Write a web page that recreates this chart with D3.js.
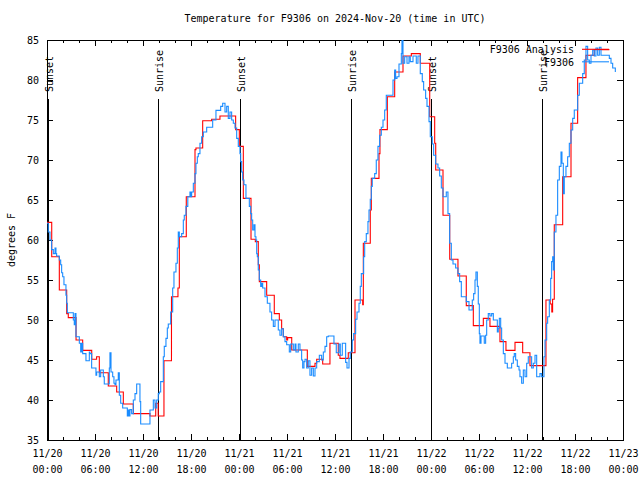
<!DOCTYPE html>
<html><head><meta charset="utf-8">
<script src="https://cdn.jsdelivr.net/npm/d3@7"></script>
<style>
body{margin:0;background:#fff}
svg{display:block}
text{font-family:"DejaVu Sans Mono","Liberation Mono",monospace;font-size:10px;fill:#000}
</style>
</head><body><svg id="c" width="640" height="480"></svg>
<script>
const title = "Temperature for F9306 on 2024-Nov-20 (time in UTC)";
const yLabel = "degrees F";
const seriesNames = ["F9306 Analysis", "F9306"];
const seriesColors = ["#ff0000", "#1a8cff"];
const startUTC = Date.UTC(2024, 10, 20);
const spanHours = 72;
const yTicks = [35, 40, 45, 50, 55, 60, 65, 70, 75, 80, 85];

const sunHours = [0.16, 13.91, 24.16, 37.96, 48.04, 61.88];
const sunLabels = ["Sunset", "Sunrise", "Sunset", "Sunrise", "Sunset", "Sunrise"];

// Analysis (hours since 11/20 00:00 UTC, degrees F)
const anaHours = [0, 0.59, 1.54, 2.46, 2.66, 3.63, 4.46, 5.59, 6.2, 6.54, 7.66, 8.71, 9.54, 10.79, 12.87, 13.59, 13.9,
  14.62, 15.56, 16.37, 16.54, 17.41, 18.5, 18.62, 19.46, 20.58, 21.62, 23.58, 24.04, 24.54, 25.5, 26.04, 26.41, 26.54,
  27.46, 28.41, 29.04, 29.33, 29.54, 29.96, 30.08, 30.59, 32.54, 33.5, 33.71, 34.46, 35.37, 36.41, 36.62, 37.66, 38.5,
  39.46, 39.54, 40.41, 40.54, 41.5, 41.62, 42.54, 43.46, 44.5, 45.54, 46.66, 47.84, 48.46, 48.59, 49.5, 50.34, 51.37,
  52.41, 53.29, 54.54, 55.37, 56.62, 57.37, 58.5, 59.46, 60.37, 62.37, 62.9, 63.1, 63.2, 63.41, 64.46, 65.5, 66.33,
  67.37, 68.41, 70.3];
const anaTemps = [62.2, 57.9, 53.75, 50.8, 50.3, 47.5, 46.2, 45.1, 45.4, 43.4, 41.75, 41.0, 39.5, 38.3, 38.0, 39.6, 38.0,
  44.9, 52.9, 54.0, 60.4, 65.4, 71.3, 71.5, 74.9, 75.1, 75.5, 73.8, 71.7, 65.2, 60.1, 59.8, 56.9, 54.8,
  53.1, 50.8, 50.0, 48.9, 47.9, 47.5, 47.8, 46.25, 44.2, 44.6, 45.1, 44.5, 47.1, 45.6, 45.2, 45.9, 52.5,
  51.9, 59.6, 63.75, 67.7, 70.8, 73.8, 77.9, 81.0, 83.0, 83.3, 82.1, 75.4, 72.1, 68.75, 63.1, 57.6, 55.5,
  51.8, 49.3, 50.2, 49.2, 47.3, 46.2, 47.2, 45.9, 44.3, 52.5, 52.0, 51.0, 52.6, 61.9, 67.9, 74.6, 80.3,
  83.1, 83.8, 83.8];

// Observations
const obsHours = [0, 0.16, 0.37, 0.58, 0.79, 1.0, 1.12, 1.2, 1.54, 1.71, 1.83, 1.96, 2.12, 2.37, 2.46, 2.54, 3.29, 3.41,
  3.5, 3.62, 4.04, 4.21, 4.33, 4.46, 4.87, 5.29, 5.37, 5.58, 6.12, 6.21, 6.54, 6.71, 7.04, 7.16, 7.79, 7.87, 8.0, 8.21,
  8.37, 8.5, 8.62, 8.91, 9.04, 9.21, 9.46, 10.04, 10.16, 10.29, 10.37, 10.58, 10.79, 11.0, 11.21, 11.62, 11.71, 12.87,
  13.29, 13.5, 13.71, 13.91, 14.04, 14.21, 14.54, 14.66, 14.87, 15.04, 15.16, 15.46, 15.71, 15.87, 16.12, 16.29, 16.41,
  16.54, 16.83, 17.04, 17.16, 17.37, 17.6, 17.87, 17.96, 18.08, 18.29, 18.5, 18.62, 18.79, 18.91, 19.12, 19.33, 19.54,
  19.96, 20.71, 21.12, 21.71, 21.96, 22.25, 22.46, 22.66, 22.87, 23.08, 23.29, 23.5, 23.71, 23.91, 24.12, 24.21, 24.33,
  24.46, 24.62, 24.87, 25.29, 25.46, 25.58, 25.71, 25.87, 26.0, 26.12, 26.21, 26.29, 26.41, 26.54, 26.71, 26.83, 26.96,
  27.25, 27.54, 27.87, 28.08, 28.29, 28.5, 28.91, 29.12, 29.33, 29.54, 29.75, 29.96, 30.29, 30.46, 30.79, 31.0, 31.12,
  31.41, 31.62, 31.83, 31.96, 32.12, 32.25, 32.46, 32.66, 32.87, 33.08, 33.29, 33.5, 33.71, 34.04, 34.33, 34.54, 34.75,
  34.96, 35.16, 35.87, 36.16, 36.5, 36.66, 36.91, 37.33, 37.5, 37.75, 37.91, 38.16, 38.33, 38.58, 38.75, 39.0, 39.16,
  39.29, 39.58, 39.71, 39.91, 40.12, 40.25, 40.41, 40.54, 40.66, 40.96, 41.16, 41.37, 41.58, 41.79, 42.0, 42.21, 42.41,
  43.25, 43.46, 43.58, 43.75, 44.0, 44.29, 44.37, 44.5, 44.71, 45.0, 45.25, 45.41, 45.75, 46.16, 46.37, 46.66, 46.91,
  47.08, 47.33, 47.5, 47.75, 47.91, 48.16, 48.33, 48.58, 48.87, 49.08, 49.29, 49.5, 49.91, 50.12, 50.33, 50.54, 50.75,
  51.08, 51.37, 51.58, 51.79, 52.41, 52.75, 53.16, 53.33, 53.5, 53.62, 53.79, 53.91, 54.04, 54.12, 54.25, 54.66, 54.83,
  54.96, 55.16, 55.37, 55.58, 55.79, 56.29, 56.41, 56.54, 56.71, 56.83, 57.04, 57.25, 57.54, 58.08, 58.29, 58.41, 58.58,
  58.79, 59.0, 59.12, 59.33, 59.54, 59.75, 59.96, 60.16, 60.58, 60.79, 61.0, 61.21, 61.62, 61.83, 62.12, 62.25, 62.46,
  62.58, 62.79, 62.96, 63.08, 63.21, 63.29, 63.41, 63.62, 63.83, 64.04, 64.25, 64.37, 64.54, 64.66, 64.87, 65.08, 65.29,
  65.5, 65.71, 65.91, 66.33, 66.54, 66.96, 67.16, 67.37, 67.58, 67.79, 68.0, 68.21, 68.41, 68.62, 68.83, 69.04, 69.25,
  70.29, 70.5, 70.71, 71.04];
const obsTemps = [62.1, 61.0, 60.0, 58.8, 58.3, 59.0, 58.3, 58.0, 57.5, 56.9, 55.9, 55.4, 54.4, 53.1, 52.1, 50.9, 50.0, 49.4,
  50.8, 47.9, 47.1, 46.0, 47.1, 45.8, 44.9, 46.0, 45.8, 44.0, 43.1, 43.5, 42.9, 43.75, 42.9, 42.0, 44.0, 45.9, 43.5, 42.9,
  42.1, 41.9, 42.5, 43.4, 40.6, 39.6, 39.0, 38.0, 38.75, 38.0, 38.8, 38.3, 40.0, 40.8, 42.0, 39.8, 37.0, 38.75,
  40.0, 39.0, 40.0, 40.8, 41.0, 42.3, 45.4, 46.7, 47.7, 49.0, 49.5, 51.0, 54.0, 56.0, 57.1, 59.0, 61.0,
  60.4, 60.8, 62.5, 63.1, 64.2, 65.4, 66.0, 65.4, 66.0, 67.1, 68.3, 69.6, 70.4, 70.8, 72.1, 72.9, 73.5,
  74.1, 75.0, 76.2, 76.7, 77.1, 76.0, 76.7, 75.2, 76.0, 75.0, 74.6, 74.0, 72.7, 71.7, 70.8, 69.8, 68.5,
  67.5, 66.9, 65.2, 64.2, 63.3, 62.5, 61.25, 61.9, 60.4, 60.0, 58.3, 57.9, 56.25, 55.0, 54.2, 54.6, 54.0,
  52.9, 52.1, 51.0, 50.0, 49.2, 50.0, 48.75, 48.1, 48.9, 47.9, 47.3, 46.9, 46.0, 47.0, 46.25, 47.0, 46.0,
  47.0, 46.25, 45.0, 44.0, 44.8, 45.1, 44.0, 44.9, 43.1, 44.0, 43.0, 44.0, 44.8, 45.6, 45.0, 46.0, 46.7,
  47.9, 48.0, 47.0, 45.9, 47.0, 45.6, 47.1, 44.7, 44.0, 45.2, 46.0, 47.5, 48.3, 50.1, 51.0, 52.1, 54.2,
  55.8, 57.9, 59.8, 60.8, 62.3, 63.75, 65.1, 66.7, 67.7, 68.3, 70.0, 71.7, 73.1, 74.1, 75.0, 76.25, 78.1,
  80.0, 81.25, 80.2, 80.4, 82.0, 83.3, 85.5, 82.1, 82.9, 82.1, 82.9, 82.3, 83.0, 82.1, 83.0, 80.8, 79.8,
  78.75, 77.7, 76.7, 74.8, 72.9, 72.0, 70.6, 69.5, 69.0, 68.0, 66.5, 65.4, 66.0, 63.3, 59.6, 57.5, 57.0,
  56.5, 55.8, 54.8, 52.9, 52.3, 51.25, 52.5, 53.3, 55.0, 56.0, 54.2, 52.0, 48.3, 47.1, 48.0, 47.1, 48.1,
  50.0, 50.8, 50.5, 50.8, 50.0, 48.5, 49.0, 50.2, 49.0, 47.5, 45.8, 44.6, 44.0, 44.6, 45.4, 45.8, 45.0,
  44.2, 43.75, 42.9, 42.1, 43.75, 42.9, 44.6, 45.4, 44.0, 44.6, 45.6, 42.9, 43.3, 42.9, 45.4, 47.5, 49.6,
  50.4, 52.5, 55.2, 57.3, 57.9, 56.25, 61.0, 63.1, 67.5, 69.2, 71.0, 69.6, 65.8, 67.9, 69.2, 70.4, 72.1,
  73.75, 75.2, 76.25, 78.1, 79.6, 80.8, 82.5, 84.2, 82.5, 82.1, 83.1, 83.75, 83.0, 84.0, 83.1, 84.1, 83.1,
  82.7, 82.1, 81.5, 81.0];

// ---------- drawing ----------
const svg = d3.select("#c");
const L = 47, R = 623, T = 40, B = 440;
const toDate = h => new Date(startUTC + h * 3600e3);
const x = d3.scaleUtc().domain([toDate(0), toDate(spanHours)]).range([L, R]);
const y = d3.scaleLinear().domain([35, 85]).range([B, T]);

svg.append("rect").attr("width", 640).attr("height", 480).attr("fill", "#fff");

svg.append("text").attr("x", 335).attr("y", 19).attr("text-anchor", "middle")
  .attr("dominant-baseline", "middle").text(title);

svg.append("clipPath").attr("id", "pc").append("rect")
  .attr("x", L).attr("y", T).attr("width", R - L).attr("height", B - T);

const minorVals = d3.utcHour.every(2).range(toDate(0), toDate(spanHours + 0.01));
const majorVals = d3.utcHour.every(6).range(toDate(0), toDate(spanHours + 0.01));
svg.append("g").attr("transform", `translate(0,${B})`)
  .call(d3.axisBottom(x).tickValues(minorVals).tickSize(-3).tickFormat(""))
  .call(g => g.select(".domain").remove());
svg.append("g").attr("transform", `translate(0,${T})`)
  .call(d3.axisTop(x).tickValues(minorVals).tickSize(-3).tickFormat(""))
  .call(g => g.select(".domain").remove());

const fmtD = d3.utcFormat("%m/%d"), fmtT = d3.utcFormat("%H:%M");
const xb = svg.append("g").attr("transform", `translate(0,${B})`)
  .call(d3.axisBottom(x).tickValues(majorVals).tickSize(-6).tickPadding(10).tickFormat(fmtD))
  .call(g => g.select(".domain").remove());
xb.selectAll(".tick text").each(function(d) {
  const t = d3.select(this);
  t.text(null).attr("font-size", null).attr("font-family", null).attr("fill", "#000");
  t.append("tspan").attr("x", 0).attr("dy", "0.71em").text(fmtD(d));
  t.append("tspan").attr("x", 0).attr("dy", "16").text(fmtT(d));
});
svg.append("g").attr("transform", `translate(0,${T})`)
  .call(d3.axisTop(x).tickValues(majorVals).tickSize(-6).tickFormat(""))
  .call(g => g.select(".domain").remove());

const yl = svg.append("g").attr("transform", `translate(${L},0)`)
  .call(d3.axisLeft(y).tickValues(yTicks).tickSize(-6).tickPadding(8).tickFormat(d3.format("d")))
  .call(g => g.select(".domain").remove());
yl.selectAll(".tick text").attr("font-size", null).attr("font-family", null).attr("fill", "#000");
svg.append("g").attr("transform", `translate(${R},0)`)
  .call(d3.axisRight(y).tickValues(yTicks).tickSize(-6).tickFormat(""))
  .call(g => g.select(".domain").remove());
svg.selectAll(".tick line").attr("stroke", "#000").attr("shape-rendering", "crispEdges");

svg.append("rect").attr("x", L + 0.5).attr("y", T + 0.5).attr("width", R - L).attr("height", B - T)
  .attr("fill", "none").attr("stroke", "#000").attr("stroke-width", 1).attr("shape-rendering", "crispEdges");

svg.append("text").attr("transform", "translate(12,240) rotate(-90)").attr("text-anchor", "middle")
  .attr("dominant-baseline", "middle").text(yLabel);

const sg = svg.append("g");
sunHours.forEach((h, i) => {
  const sx = Math.round(x(toDate(h))) + 0.5;
  sg.append("line").attr("x1", sx).attr("x2", sx).attr("y1", 99).attr("y2", B)
    .attr("stroke", "#000").attr("stroke-width", 1.5).attr("shape-rendering", "crispEdges");
  sg.append("text").attr("transform", `translate(${sx + 1.5},92) rotate(-90)`)
    .attr("text-anchor", "start").attr("dominant-baseline", "middle").text(sunLabels[i]);
});

const line = d3.line().curve(d3.curveStepAfter).x(d => x(toDate(d[0]))).y(d => y(d[1]));
const ana = d3.zip(anaHours, anaTemps);
const obs = d3.zip(obsHours, obsTemps);
const dg = svg.append("g").attr("clip-path", "url(#pc)");
dg.append("path").datum(ana).attr("d", line).attr("fill", "none")
  .attr("stroke", seriesColors[0]).attr("stroke-width", 1.1);
dg.append("path").datum(obs).attr("d", line).attr("fill", "none")
  .attr("stroke", seriesColors[1]).attr("stroke-width", 1.1);

const lg = svg.append("g");
seriesNames.forEach((n, i) => {
  const ly = 50 + i * 12.5;
  lg.append("text").attr("x", 574).attr("y", ly).attr("text-anchor", "end")
    .attr("dominant-baseline", "middle").text(n);
  lg.append("line").attr("x1", 582).attr("x2", 609).attr("y1", ly - 0.7).attr("y2", ly - 0.7)
    .attr("stroke", seriesColors[i]).attr("stroke-width", 1.1);
});
</script>
</body></html>
